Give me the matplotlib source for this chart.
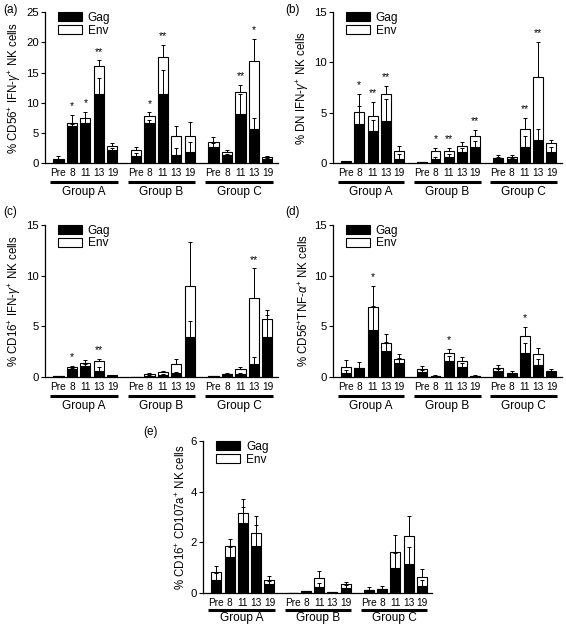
import numpy as np
import matplotlib
matplotlib.use("Agg")
import matplotlib.pyplot as plt
from matplotlib.patches import Patch
from matplotlib.transforms import blended_transform_factory

plt.rcParams['font.family'] = ['Liberation Sans', 'DejaVu Sans']
plt.rcParams['mathtext.fontset'] = 'custom'
plt.rcParams['mathtext.rm'] = 'Liberation Sans'
plt.rcParams['mathtext.it'] = 'Liberation Sans:italic'

# time points within each group, groups of animals
timepoints = ['Pre', '8', '11', '13', '19']
groups = ['Group A', 'Group B', 'Group C']

# ---- panel (a): CD56+ IFN-g+ ----
gag_a = [0.6, 6.15, 6.6, 11.4, 2.1,   1.1, 6.6, 11.4, 1.4, 1.9,   2.75, 1.35, 8.1, 5.65, 0.65]
env_a = [0.15, 0.5, 0.9, 4.6, 0.8,    1.0, 1.2, 6.1, 3.05, 2.6,   0.7, 0.55, 3.7, 11.25, 0.35]
gerr_a = [0, 0.3, 0.8, 2.7, 0.4,      0.5, 0.5, 4.0, 1.1, 1.6,    0.5, 0.2, 3.3, 1.75, 0.2]
terr_a = [0.35, 1.35, 1.0, 1.0, 0.4,  0.5, 0.6, 2.1, 1.7, 2.25,   0.85, 0.2, 1.1, 3.6, 0.2]
stars_a = ['', '*', '*', '**', '',    '', '*', '**', '', '',      '', '', '**', '*', '']

# ---- panel (b): DN IFN-g+ ----
gag_b = [0.1, 3.9, 3.2, 4.15, 0.45,   0.1, 0.45, 0.65, 1.1, 1.65,  0.5, 0.4, 1.65, 2.25, 1.1]
env_b = [0.1, 1.2, 1.5, 2.75, 0.75,   0.03, 0.75, 0.55, 0.65, 1.05, 0.05, 0.25, 1.75, 6.3, 0.85]
gerr_b = [0, 1.8, 1.1, 2.2, 0.45,     0, 0.2, 0.25, 0.4, 0.5,      0.1, 0.15, 1.0, 1.15, 0.5]
terr_b = [0.05, 1.8, 1.35, 0.8, 0.55, 0, 0.3, 0.3, 0.3, 0.6,       0.25, 0.2, 1.05, 3.45, 0.35]
stars_b = ['', '*', '**', '**', '',   '', '*', '**', '', '**',     '', '', '**', '**', '']

# ---- panel (c): CD16+ IFN-g+ ----
gag_c = [0.07, 0.8, 1.1, 0.6, 0.1,    0.02, 0.1, 0.2, 0.4, 3.9,    0.1, 0.25, 0.3, 1.25, 3.9]
env_c = [0.03, 0.2, 0.3, 1.0, 0.07,   0.01, 0.2, 0.25, 0.9, 5.1,   0.03, 0.05, 0.5, 6.55, 1.85]
gerr_c = [0, 0.1, 0.2, 0.4, 0,        0, 0.05, 0.1, 0.1, 1.6,      0, 0, 0.1, 0.75, 2.2]
terr_c = [0, 0.1, 0.25, 0.2, 0.03,    0, 0.05, 0.15, 0.5, 4.3,     0, 0.05, 0.15, 2.9, 0.85]
stars_c = ['', '*', '', '**', '',     '', '', '', '', '',          '', '', '', '**', '']

# ---- panel (d): CD56+ TNF-a+ ----
gag_d = [0.4, 0.9, 4.65, 2.55, 1.4,   0.5, 0.1, 1.6, 1.0, 0.1,     0.55, 0.25, 2.4, 1.15, 0.5]
env_d = [0.6, 0.0, 2.25, 0.8, 0.4,    0.25, 0.02, 0.8, 0.6, 0.03,  0.35, 0.1, 1.6, 1.15, 0.1]
gerr_d = [0.3, 0, 2.35, 0.85, 0.5,    0.15, 0, 0.5, 0.4, 0,        0.2, 0.1, 0.95, 0.65, 0.1]
terr_d = [0.7, 0.6, 2.1, 0.9, 0.5,    0.3, 0.03, 0.4, 0.35, 0.03,  0.25, 0.2, 0.9, 0.55, 0.15]
stars_d = ['', '', '*', '', '',       '', '', '*', '', '',         '', '', '*', '', '']

# ---- panel (e): CD16+ CD107a+ ----
gag_e = [0.5, 1.42, 2.76, 1.84, 0.34, 0, 0.08, 0.24, 0.03, 0.18,   0.13, 0.16, 1.0, 1.13, 0.26]
env_e = [0.33, 0.45, 0.4, 0.54, 0.19, 0, 0.01, 0.36, 0, 0.16,      0, 0, 0.63, 1.12, 0.37]
gerr_e = [0.3, 0.38, 0.64, 0.83, 0.15, 0, 0, 0.16, 0, 0.12,        0, 0, 0.6, 0.67, 0.24]
terr_e = [0.22, 0.28, 0.56, 0.66, 0.15, 0, 0, 0.26, 0, 0.08,       0.11, 0.12, 0.65, 0.8, 0.3]
stars_e = [''] * 15

GROUP_STEP = 5.75
x = np.array([g * GROUP_STEP + i for g in range(3) for i in range(5)])


def drawPanel(ax, gag, env, gerr, terr, stars, ylabel, ymax, ystep, lineY, labelY):
    gag = np.array(gag)
    env = np.array(env)
    gerr = np.array(gerr)
    terr = np.array(terr)
    top = gag + env

    ax.bar(x, gag, width=0.75, color='black', edgecolor='black', linewidth=0.8, zorder=2)
    ax.bar(x, env, bottom=gag, width=0.75, color='white', edgecolor='black', linewidth=0.8, zorder=2)

    # error bars (upper only)
    m = gerr > 0
    ax.errorbar(x[m], gag[m], yerr=[np.zeros(m.sum()), gerr[m]], fmt='none',
                ecolor='black', elinewidth=0.7, capsize=1.6, capthick=0.7, zorder=3)
    m = terr > 0
    ax.errorbar(x[m], top[m], yerr=[np.zeros(m.sum()), terr[m]], fmt='none',
                ecolor='black', elinewidth=0.7, capsize=1.6, capthick=0.7, zorder=3)

    # significance stars
    for xi, t, e, g, ge, s in zip(x, top, terr, gag, gerr, stars):
        if s:
            y = max(t + e, g + ge) + ymax * 0.025
            ax.text(xi, y, s, ha='center', va='bottom', fontsize=7.5)

    ax.set_xlim(-1, 16.3)
    ax.set_ylim(0, ymax)
    ax.set_yticks(np.arange(0, ymax + 0.01, ystep))
    ax.set_xticks(x)
    ax.set_xticklabels(timepoints * 3, fontsize=7.3)
    ax.tick_params(axis='x', length=0, pad=3.5)
    ax.tick_params(axis='y', direction='out', length=3, width=0.8, labelsize=8.2, pad=1.5)
    ax.spines['top'].set_visible(False)
    ax.spines['right'].set_visible(False)
    ax.spines['left'].set_linewidth(0.9)
    ax.spines['bottom'].set_linewidth(0.9)
    ax.set_ylabel(ylabel, fontsize=8.3, labelpad=2)

    # group underline and labels
    trans = blended_transform_factory(ax.transData, ax.transAxes)
    for g, name in enumerate(groups):
        x0 = g * GROUP_STEP - 0.6
        x1 = g * GROUP_STEP + 4.4
        ax.plot([x0, x1], [lineY, lineY], color='black', linewidth=2.2,
                transform=trans, clip_on=False, solid_capstyle='butt')
        ax.text((x0 + x1) / 2, labelY, name, ha='center', va='center',
                fontsize=8.6, transform=trans)

    handles = [Patch(facecolor='black', edgecolor='black', linewidth=0.8),
               Patch(facecolor='white', edgecolor='black', linewidth=0.8)]
    ax.legend(handles, ['Gag', 'Env'], loc='upper left', bbox_to_anchor=(0.03, 1.04),
              frameon=False, fontsize=8.6, handlelength=2.0, handleheight=0.8,
              labelspacing=0.05, borderpad=0, handletextpad=0.5)


fig = plt.figure(figsize=(5.66, 6.25), dpi=100)

axA = fig.add_axes([0.0795, 0.739, 0.412, 0.2416])
drawPanel(axA, gag_a, env_a, gerr_a, terr_a, stars_a,
          r'% CD56$^{+}$ IFN-$\gamma^{+}$ NK cells', 25, 5, -0.126, -0.19)

axB = fig.add_axes([0.588, 0.739, 0.405, 0.2416])
drawPanel(axB, gag_b, env_b, gerr_b, terr_b, stars_b,
          r'% DN IFN-$\gamma^{+}$ NK cells', 15, 5, -0.126, -0.19)

axC = fig.add_axes([0.0795, 0.397, 0.412, 0.2432])
drawPanel(axC, gag_c, env_c, gerr_c, terr_c, stars_c,
          r'% CD16$^{+}$ IFN-$\gamma^{+}$ NK cells', 15, 5, -0.126, -0.19)

axD = fig.add_axes([0.588, 0.397, 0.405, 0.2432])
drawPanel(axD, gag_d, env_d, gerr_d, terr_d, stars_d,
          r'% CD56$^{+}$TNF-$\alpha^{+}$ NK cells', 15, 5, -0.126, -0.19)

axE = fig.add_axes([0.359, 0.0512, 0.405, 0.243])
drawPanel(axE, gag_e, env_e, gerr_e, terr_e, stars_e,
          r'% CD16$^{+}$ CD107a$^{+}$ NK cells', 6, 2, -0.112, -0.165)

# panel letters
for letter, px, py in [('(a)', 3, 10), ('(b)', 285, 10), ('(c)', 3, 212),
                       ('(d)', 285, 212), ('(e)', 143, 432)]:
    fig.text(px / 566, 1 - py / 625, letter, fontsize=8.5, va='center', ha='left')

fig.savefig('out.png', dpi=100)
